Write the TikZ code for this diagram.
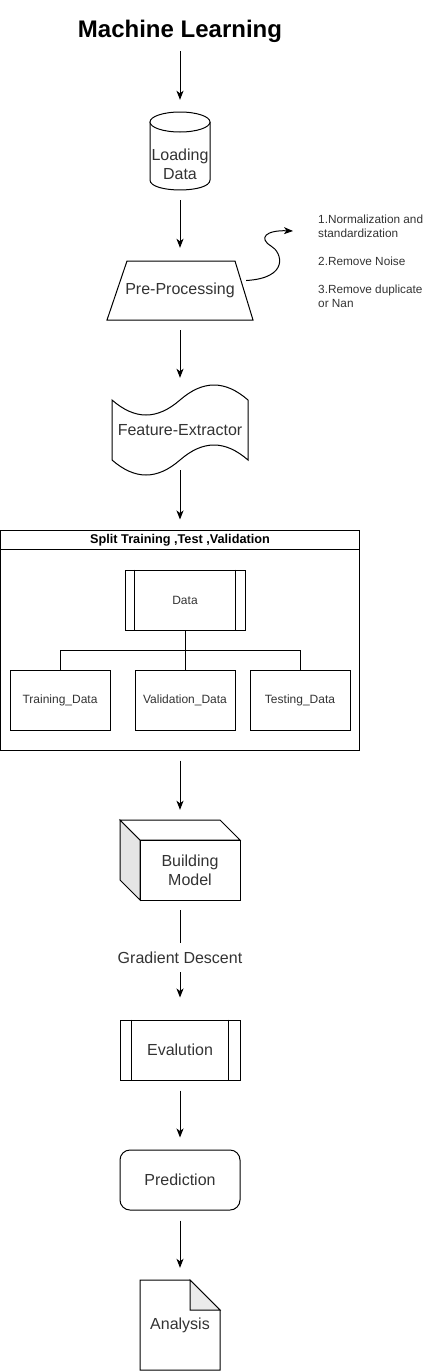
\documentclass[tikz,border=0pt]{standalone}
\usepackage{fontspec}
\setmainfont{Liberation Sans}
\usetikzlibrary{arrows.meta}

\begin{document}
\begin{tikzpicture}
  [x=1pt,y=-1pt,auto=left]
      \tikzstyle{edge_style} = [draw=black, line width=1pt, -{Stealth[length=9pt,width=7pt,inset=2.5pt]}]
      \tikzstyle{shape_style} = [draw=black, line width=1pt, fill=white]
      \tikzstyle{box_style} = [inner sep=0pt, minimum width=120pt, minimum height=60pt, text=black!80, align=center, font=\fontsize{16}{19}\selectfont]
      \tikzstyle{small_style} = [draw=black, line width=1pt, inner sep=0pt, minimum width=100pt, minimum height=60pt, text=black!80, font=\fontsize{12}{14}\selectfont]
  \useasboundingbox (0,0) rectangle (437,1371);
  % shapes
  \draw[shape_style] (150,122) -- (150,180) .. controls (150,193.3) and (210,193.3) .. (210,180) -- (210,122);
  \draw[shape_style] (180,122) ellipse [x radius=30pt, y radius=10pt];
  \draw[shape_style] (127,261) -- (235,261) -- (253,320) -- (107,320) -- cycle;
  \draw[shape_style] (112,400) .. controls (135,420) and (157,420) .. (180,400) .. controls (203,380) and (225,380) .. (248,400)
    -- (248,460) .. controls (225,440) and (203,440) .. (180,460) .. controls (157,480) and (135,480) .. (112,460) -- cycle;
  \draw[shape_style, fill=black!10] (120,820) -- (140,840) -- (140,900) -- (120,880) -- cycle;
  \draw[shape_style] (120,820) -- (220,820) -- (240,840) -- (140,840) -- cycle;
  \draw[shape_style] (140,840) rectangle (240,900);
  \draw[shape_style] (140,1280) -- (190,1280) -- (220,1310) -- (220,1370) -- (140,1370) -- cycle;
  \draw[shape_style, fill=black!8] (190,1280) -- (190,1310) -- (220,1310) -- cycle;
  % nodes
  \node[inner sep=0pt, minimum height=20pt, font=\fontsize{24}{28}\selectfont\bfseries] (title) at (180,31) {Machine Learning};
  \node[box_style, minimum width=60pt, minimum height=78pt, label={[box_style, yshift=-13pt]center:Loading\\Data}] (load) at (180,151) {};
  \node[box_style, minimum width=146pt, minimum height=59pt] (pre) at (180,290.5) {Pre-Processing};
  \node[anchor=north west, align=left, inner sep=0pt, text=black!80, font=\fontsize{11.8}{14}\selectfont] (steps) at (318,215)
    {1.Normalization and\\standardization\\[14pt]2.Remove Noise\\[14pt]3.Remove duplicate\\or Nan};
  \coordinate (steps_tip) at (293,231);
  \node[box_style, minimum width=136pt, minimum height=93pt] (feat) at (180,430) {Feature-Extractor};
  \node[draw=black, line width=1pt, minimum width=359pt, minimum height=220pt] (split) at (180,640) {};
  \node[font=\fontsize{12.7}{15}\selectfont\bfseries] (split_title) at (180,540) {Split Training ,Test ,Validation};
  \node[small_style, minimum width=120pt] (data) at (185,600) {Data};
  \node[small_style] (train) at (60,700) {Training\_Data};
  \node[small_style] (valid) at (185,700) {Validation\_Data};
  \node[small_style] (test) at (300,700) {Testing\_Data};
  \coordinate (fork) at (185,650);
  \node[box_style, minimum height=80pt, label={[box_style, minimum width=100pt, xshift=10pt, yshift=-10pt]center:Building\\Model}] (model) at (180,860) {};
  \node[box_style, draw=black, line width=1pt] (eval) at (180,1050) {Evalution};
  \node[box_style, draw=black, line width=1pt, rounded corners=10pt] (pred) at (180,1180) {Prediction};
  \node[box_style, minimum width=80pt, minimum height=90pt] (ana) at (180,1325) {Analysis};
  % details
  \draw[line width=1pt] (split.north west) ++(0,20) -- ([yshift=-20pt]split.north east);
  \draw[line width=1pt] ([xshift=10pt]data.north west) -- ([xshift=10pt]data.south west);
  \draw[line width=1pt] ([xshift=-10pt]data.north east) -- ([xshift=-10pt]data.south east);
  \draw[line width=1pt] ([xshift=12pt]eval.north west) -- ([xshift=12pt]eval.south west);
  \draw[line width=1pt] ([xshift=-12pt]eval.north east) -- ([xshift=-12pt]eval.south east);
  % connectors
  \draw[line width=1pt] (data) -- (fork) -| (train);
  \draw[line width=1pt] (fork) -- (valid);
  \draw[line width=1pt] (fork) -| (test);
  \draw[edge_style, shorten <=9pt, shorten >=12pt] (title) -- (load);
  \draw[edge_style, shorten <=10pt, shorten >=13pt] (load) -- (pre);
  \draw[edge_style] ([shift={(-7pt,10pt)}]pre.east) .. controls (290,278) and (282,252) .. (271,246) .. controls (258,238) and (266,230) .. (steps_tip);
  \draw[edge_style, shorten <=10pt, shorten >=5.5pt] (pre) -- (feat);
  \draw[edge_style, shorten <=-6.5pt, shorten >=10pt] (feat) -- (split);
  \draw[edge_style, shorten <=10pt, shorten >=10pt] (split) -- (model);
  \draw[edge_style, shorten <=10pt, shorten >=22pt] (model) -- node[auto=false, pos=0.48, fill=white, inner xsep=1pt, inner ysep=9pt, text=black!80, font=\fontsize{16}{19}\selectfont] {Gradient Descent} (eval);
  \draw[edge_style, shorten <=10pt, shorten >=12pt] (eval) -- (pred);
  \draw[edge_style, shorten <=10pt, shorten >=12pt] (pred) -- (ana);
\end{tikzpicture}
\end{document}
